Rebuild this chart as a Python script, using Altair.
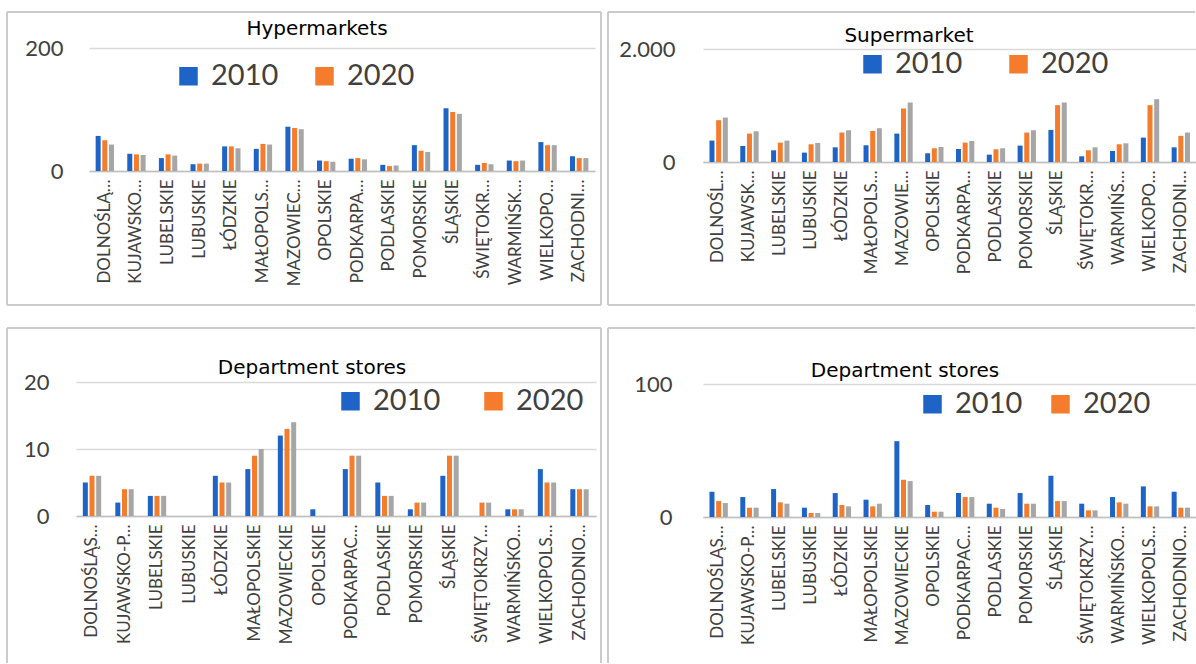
import altair as alt
import pandas as pd

# ---------------- data ----------------
regions = ["DOLNOŚLĄSKIE", "KUJAWSKO-POMORSKIE", "LUBELSKIE", "LUBUSKIE", "ŁÓDZKIE",
           "MAŁOPOLSKIE", "MAZOWIECKIE", "OPOLSKIE", "PODKARPACKIE", "PODLASKIE",
           "POMORSKIE", "ŚLĄSKIE", "ŚWIĘTOKRZYSKIE", "WARMIŃSKO-MAZURSKIE",
           "WIELKOPOLSKIE", "ZACHODNIOPOMORSKIE"]
years = ["2010", "2020", "2021"]
legend_years = ["2010", "2020"]

hyper_2010 = [57, 28, 21, 11, 40, 36, 72, 17, 20, 10, 42, 102, 10, 17, 47, 24]
hyper_2020 = [50, 27, 27, 12, 40, 44, 70, 16, 21, 8, 33, 96, 13, 16, 42, 21]
hyper_2021 = [43, 26, 25, 12, 37, 43, 68, 15, 19, 9, 31, 93, 11, 17, 42, 21]

super_2010 = [379, 284, 207, 166, 260, 296, 503, 154, 231, 130, 290, 568, 101, 195, 432, 260]
super_2020 = [740, 503, 343, 314, 521, 550, 947, 243, 343, 225, 521, 1006, 207, 314, 1006, 462]
super_2021 = [787, 544, 379, 337, 562, 598, 1053, 266, 373, 243, 562, 1053, 260, 331, 1112, 521]

dept_2010 = [5, 2, 3, 0, 6, 7, 12, 1, 7, 5, 1, 6, 0, 1, 7, 4]
dept_2020 = [6, 4, 3, 0, 5, 9, 13, 0, 9, 3, 2, 9, 2, 1, 5, 4]
dept_2021 = [6, 4, 3, 0, 5, 10, 14, 0, 9, 3, 2, 9, 2, 1, 5, 4]

dept2_2010 = [19, 15, 21, 7, 18, 13, 57, 9, 18, 10, 18, 31, 10, 15, 23, 19]
dept2_2020 = [12, 7, 11, 3, 9, 8, 28, 4, 15, 7, 10, 12, 5, 11, 8, 7]
dept2_2021 = [10.5, 7, 10, 3, 8, 10, 27, 4, 15, 6, 10, 12, 5, 10, 8, 7]

titles = ["Hypermarkets", "Supermarket", "Department stores", "Department stores"]
y_ticks = [[0, 200], [0, 2000], [0, 10, 20], [0, 100]]

# ---------------- styles ----------------
COLORS = ["#1E63C6", "#F47C2C", "#A6A6A6"]
BORDER = "#CBCBCB"
TXT = "#404040"
LBL_FONT = "Lato"
TITLE_FONT = "DejaVu Sans"

# layout per panel (absolute page pixels): plot origin/size, band span, pixel row of top tick,
# bounding box, border segments, title centre, legend (symbol-left, row centre), legend column
# padding, x label limit, y label padding
layout = [
    dict(px=76, py=48, W=520, H=123, band=(89, 595), ytop=48, box=(0, 0, 604, 316),
         segs=[(7, 12, 7, 305), (601, 12, 601, 305), (7, 12, 601, 12), (7, 305, 601, 305)],
         tpos=(317, 29), lpos=(174, 76), colpad=31, llim=107, ypad=13),
    dict(px=703, py=48, W=493, H=114, band=(703, 1196), ytop=49, box=(604, 0, 1196, 316),
         segs=[(608, 12, 608, 305), (608, 12, 1195, 12), (608, 305, 1195, 305)],
         tpos=(909, 36), lpos=(858, 64), colpad=41, llim=104, ypad=28),
    dict(px=76, py=382, W=520, H=134, band=(76, 596), ytop=382, box=(0, 316, 604, 664),
         segs=[(7, 328, 7, 663), (601, 328, 601, 663), (7, 328, 601, 328)],
         tpos=(312, 368), lpos=(336, 401), colpad=38, llim=123, ypad=27),
    dict(px=703, py=382, W=493, H=135, band=(703, 1196), ytop=384, box=(604, 316, 1196, 664),
         segs=[(608, 328, 608, 663), (608, 328, 1195, 328)],
         tpos=(905, 371), lpos=(918, 404), colpad=23, llim=122, ypad=31),
]

series = [
    (hyper_2010, hyper_2020, hyper_2021),
    (super_2010, super_2020, super_2021),
    (dept_2010, dept_2020, dept_2021),
    (dept2_2010, dept2_2020, dept2_2021),
]

one = pd.DataFrame({"k": [0]})


def make_panel(i):
    L = layout[i]
    s = series[i]
    px, py = L["px"], L["py"]
    df = pd.DataFrame({
        "region": regions * 3,
        "year": [y for y in years for _ in regions],
        "value": list(s[0]) + list(s[1]) + list(s[2]),
    })
    tmax = y_ticks[i][-1]
    # domain top so that the top tick sits on its pixel row
    dmax = tmax * L["H"] / (py + L["H"] - L["ytop"])
    xr = [L["band"][0] - px, L["band"][1] - px]
    bars = alt.Chart(df).mark_bar().encode(
        x=alt.X("region:N", sort=regions,
                scale=alt.Scale(paddingInner=0.42, paddingOuter=0.21, range=xr),
                axis=alt.Axis(title=None, labelAngle=-90, labelFont=LBL_FONT, labelFontSize=17,
                              labelColor=TXT, labelPadding=8, labelLimit=L["llim"], ticks=False,
                              domainColor="#BFBFBF", domainWidth=1.5, labelOverlap=False,
                              grid=False)),
        xOffset=alt.XOffset("year:N", sort=years,
                            scale=alt.Scale(paddingInner=0.25, paddingOuter=0)),
        y=alt.Y("value:Q", scale=alt.Scale(domain=[0, dmax], nice=False, zero=True),
                axis=alt.Axis(title=None, values=y_ticks[i], grid=True, gridColor="#D9D9D9",
                              gridWidth=1.5, ticks=False, domain=False, labelFont=LBL_FONT,
                              labelFontSize=22, labelColor=TXT, labelPadding=L["ypad"],
                              labelFlush=False,
                              labelExpr="replace(format(datum.value, ','), ',', '.')")),
        color=alt.Color("year:N", sort=years,
                        scale=alt.Scale(domain=years, range=COLORS),
                        legend=alt.Legend(title=None, orient="none",
                                          legendX=L["lpos"][0] - px,
                                          legendY=L["lpos"][1] - py - 14.5,
                                          direction="horizontal", values=legend_years,
                                          symbolType="square", symbolSize=342,
                                          symbolStrokeWidth=0, labelFont=LBL_FONT,
                                          labelFontSize=29, labelColor=TXT, labelOffset=8,
                                          columnPadding=L["colpad"], padding=0)),
    )
    bx0, by0, bx1, by1 = L["box"]
    box = alt.Chart(one).mark_rect(opacity=0).encode(
        x=alt.value(bx0 - px), x2=alt.value(bx1 - px),
        y=alt.value(by0 - py), y2=alt.value(by1 - py))
    layers = [box]
    for (x1, y1, x2, y2) in L["segs"]:
        layers.append(alt.Chart(one).mark_rule(color=BORDER, strokeWidth=2).encode(
            x=alt.value(x1 - px), x2=alt.value(x2 - px),
            y=alt.value(y1 - py), y2=alt.value(y2 - py)))
    title = alt.Chart(one).mark_text(font=TITLE_FONT, fontSize=20, color="black",
                                     align="center", baseline="middle").encode(
        x=alt.value(L["tpos"][0] - px), y=alt.value(L["tpos"][1] - py),
        text=alt.value(titles[i]))
    layers.append(bars)
    layers.append(title)
    return alt.layer(*layers).properties(width=L["W"], height=L["H"])


def row(a, b):
    return alt.hconcat(a, b, spacing=0).resolve_scale(
        color="independent", x="independent", y="independent").resolve_legend(color="independent")


chart = alt.vconcat(row(make_panel(0), make_panel(1)), row(make_panel(2), make_panel(3)),
                    spacing=0).resolve_scale(
    color="independent", x="independent", y="independent").resolve_legend(
    color="independent").properties(padding=0, background="white").configure_view(stroke=None)

chart.save("out.html", embed_options={"renderer": "svg", "actions": False})
